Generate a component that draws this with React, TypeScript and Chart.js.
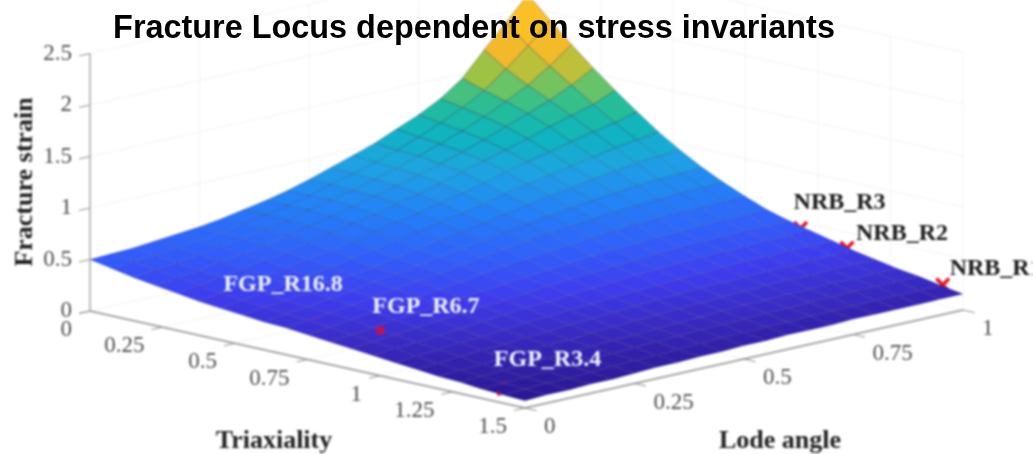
import React, { useEffect, useRef } from "react";
import { Chart, registerables } from "chart.js";

Chart.register(...registerables);

const chartTitle = "Fracture Locus dependent on stress invariants";
const triaxiality = [0, 0.075, 0.15, 0.225, 0.3, 0.375, 0.45, 0.525, 0.6, 0.675, 0.75, 0.825, 0.9, 0.975, 1.05, 1.125, 1.2, 1.275, 1.35, 1.425, 1.5];
const lodeAngle = [0, 0.05, 0.1, 0.15, 0.2, 0.25, 0.3, 0.35, 0.4, 0.45, 0.5, 0.55, 0.6, 0.65, 0.7, 0.75, 0.8, 0.85, 0.9, 0.95, 1];
// one column per triaxiality, each running over the Lode angle values
const fractureStrain = [
  [0.5, 0.51, 0.52, 0.54, 0.56, 0.58, 0.61, 0.65, 0.69, 0.74, 0.8, 0.87, 0.94, 1.01, 1.1, 1.19, 1.3, 1.45, 1.68, 1.9, 2.12],
  [0.46, 0.48, 0.49, 0.52, 0.54, 0.57, 0.61, 0.65, 0.69, 0.74, 0.8, 0.86, 0.92, 0.99, 1.07, 1.16, 1.26, 1.38, 1.54, 1.72, 1.92],
  [0.42, 0.45, 0.47, 0.5, 0.53, 0.56, 0.6, 0.64, 0.69, 0.74, 0.79, 0.85, 0.91, 0.98, 1.05, 1.13, 1.22, 1.32, 1.43, 1.57, 1.73],
  [0.39, 0.42, 0.44, 0.48, 0.51, 0.54, 0.59, 0.63, 0.68, 0.73, 0.78, 0.83, 0.89, 0.95, 1.02, 1.09, 1.17, 1.25, 1.33, 1.43, 1.55],
  [0.36, 0.39, 0.42, 0.46, 0.49, 0.52, 0.57, 0.61, 0.66, 0.7, 0.75, 0.8, 0.86, 0.92, 0.98, 1.04, 1.1, 1.17, 1.23, 1.29, 1.38],
  [0.33, 0.36, 0.39, 0.43, 0.46, 0.5, 0.54, 0.58, 0.63, 0.67, 0.71, 0.76, 0.81, 0.86, 0.92, 0.97, 1.02, 1.07, 1.12, 1.16, 1.22],
  [0.31, 0.34, 0.37, 0.4, 0.43, 0.47, 0.51, 0.55, 0.59, 0.63, 0.67, 0.71, 0.75, 0.8, 0.85, 0.89, 0.93, 0.97, 1.01, 1.04, 1.07],
  [0.29, 0.32, 0.34, 0.37, 0.41, 0.44, 0.47, 0.51, 0.55, 0.59, 0.62, 0.66, 0.7, 0.74, 0.78, 0.81, 0.85, 0.88, 0.91, 0.93, 0.94],
  [0.27, 0.3, 0.32, 0.35, 0.38, 0.42, 0.45, 0.48, 0.52, 0.55, 0.58, 0.62, 0.65, 0.68, 0.71, 0.74, 0.76, 0.79, 0.8, 0.81, 0.82],
  [0.26, 0.29, 0.31, 0.34, 0.37, 0.4, 0.43, 0.46, 0.49, 0.52, 0.55, 0.58, 0.6, 0.63, 0.65, 0.67, 0.69, 0.7, 0.71, 0.72, 0.72],
  [0.24, 0.26, 0.29, 0.32, 0.34, 0.37, 0.4, 0.42, 0.45, 0.48, 0.5, 0.52, 0.54, 0.56, 0.58, 0.6, 0.61, 0.62, 0.62, 0.63, 0.63],
  [0.22, 0.24, 0.26, 0.29, 0.31, 0.33, 0.36, 0.38, 0.4, 0.42, 0.44, 0.46, 0.48, 0.5, 0.51, 0.52, 0.53, 0.54, 0.55, 0.55, 0.55],
  [0.2, 0.22, 0.24, 0.26, 0.28, 0.3, 0.32, 0.34, 0.36, 0.38, 0.4, 0.41, 0.43, 0.44, 0.46, 0.47, 0.48, 0.48, 0.49, 0.49, 0.49],
  [0.18, 0.2, 0.21, 0.23, 0.25, 0.27, 0.29, 0.31, 0.32, 0.34, 0.36, 0.37, 0.39, 0.4, 0.41, 0.42, 0.43, 0.43, 0.44, 0.44, 0.44],
  [0.16, 0.17, 0.19, 0.21, 0.22, 0.24, 0.26, 0.27, 0.29, 0.3, 0.32, 0.33, 0.34, 0.35, 0.36, 0.37, 0.38, 0.38, 0.39, 0.39, 0.39],
  [0.14, 0.15, 0.17, 0.18, 0.19, 0.21, 0.22, 0.24, 0.25, 0.26, 0.28, 0.29, 0.3, 0.31, 0.32, 0.32, 0.33, 0.33, 0.34, 0.34, 0.34],
  [0.12, 0.13, 0.14, 0.16, 0.17, 0.18, 0.19, 0.21, 0.22, 0.23, 0.24, 0.25, 0.26, 0.27, 0.28, 0.29, 0.29, 0.29, 0.3, 0.3, 0.3],
  [0.11, 0.12, 0.13, 0.14, 0.15, 0.16, 0.17, 0.18, 0.19, 0.2, 0.21, 0.22, 0.23, 0.24, 0.24, 0.25, 0.25, 0.26, 0.26, 0.26, 0.26],
  [0.09, 0.1, 0.11, 0.12, 0.13, 0.14, 0.15, 0.16, 0.17, 0.18, 0.19, 0.19, 0.2, 0.21, 0.21, 0.22, 0.22, 0.23, 0.23, 0.23, 0.23],
  [0.08, 0.09, 0.1, 0.1, 0.11, 0.12, 0.13, 0.13, 0.14, 0.15, 0.16, 0.16, 0.17, 0.17, 0.18, 0.18, 0.18, 0.19, 0.19, 0.19, 0.19],
  [0.07, 0.08, 0.08, 0.09, 0.09, 0.1, 0.11, 0.11, 0.12, 0.12, 0.13, 0.13, 0.14, 0.14, 0.14, 0.15, 0.15, 0.15, 0.15, 0.155, 0.155],
];

const triaxTicks = [0, 0.25, 0.5, 0.75, 1, 1.25, 1.5];
const lodeTicks = [0, 0.25, 0.5, 0.75, 1];
const strainTicks = [0, 0.5, 1, 1.5, 2, 2.5];

const nrbNames = ["NRB_R3", "NRB_R2", "NRB_R1"];
const nrbTriax = [0.94, 1.1, 1.43];
const nrbLode = [1, 1, 1];
const nrbStrain = [0.44, 0.35, 0.2];

const fgpNames = ["FGP_R16.8", "FGP_R6.7", "FGP_R3.4"];
const fgpTriax = [0.66, 0.85, 1.37, 1.41];
const fgpLode = [0.08, 0.1, 0.04, 0];
const fgpStrain = [0.27, 0.25, 0.13, 0.08];

const colorStrain = [0.05, 0.2, 0.35, 0.5, 0.7, 0.9, 1.1, 1.2, 1.3, 1.4, 1.5, 1.6, 1.7, 2.0];
const colorRed = [40, 56, 62, 50, 35, 30, 15, 25, 45, 95, 150, 205, 242, 253];
const colorGreen = [20, 40, 60, 92, 128, 162, 180, 185, 190, 195, 195, 190, 185, 195];
const colorBlue = [140, 190, 238, 250, 248, 228, 192, 170, 145, 110, 70, 50, 42, 35];

// 3D view: floor corners and vertical scale of the orthographic projection
const project = (t: number, l: number, z: number) => ({
  x: 90 + (435 * t) / 1.5 + 438 * l,
  y: 311 + (97 * t) / 1.5 - 98 * l - 103 * z,
});

const colorFor = (z: number) => {
  const n = colorStrain.length;
  let k = 0;
  while (k < n - 2 && z > colorStrain[k + 1]) k++;
  const a = Math.max(0, Math.min(1, (z - colorStrain[k]) / (colorStrain[k + 1] - colorStrain[k])));
  const mix = (c: number[]) => Math.round(c[k] + (c[k + 1] - c[k]) * a);
  return `rgb(${mix(colorRed)},${mix(colorGreen)},${mix(colorBlue)})`;
};

const polyline = (pts: number[][], color: string, width: number, order: number) => ({
  data: pts.map(([t, l, z]) => project(t, l, z)),
  showLine: true,
  borderColor: color,
  borderWidth: width,
  pointRadius: 0,
  fill: false,
  order,
});

const buildDatasets = () => {
  const out: any[] = [];
  const wall = "rgba(215,215,215,0.3)";
  const axisGray = "#8f8f8f";

  // walls and floor grid
  for (const l of lodeTicks.slice(1)) out.push(polyline([[0, l, 0], [0, l, 2.5]], wall, 1, 4));
  for (const t of triaxTicks.slice(1)) out.push(polyline([[t, 1, 0], [t, 1, 2.5]], wall, 1, 4));
  for (const z of strainTicks.slice(1)) {
    out.push(polyline([[0, 0, z], [0, 1, z]], wall, 1, 4));
    out.push(polyline([[0, 1, z], [1.5, 1, z]], wall, 1, 4));
  }
  for (const l of lodeTicks) out.push(polyline([[0, l, 0], [1.5, l, 0]], wall, 1, 4));
  for (const t of triaxTicks) out.push(polyline([[t, 0, 0], [t, 1, 0]], wall, 1, 4));

  // axes and ticks
  out.push(polyline([[0, 0, 0], [0, 0, 2.5]], "#b5b5b5", 1.8, 3));
  out.push(polyline([[0, 0, 0], [1.5, 0, 0]], axisGray, 1.3, 3));
  out.push(polyline([[1.5, 0, 0], [1.5, 1, 0]], axisGray, 1.3, 3));
  for (const t of triaxTicks) out.push(polyline([[t, 0, 0], [t, -0.025, 0]], axisGray, 1, 3));
  for (const l of lodeTicks) out.push(polyline([[1.5, l, 0], [1.54, l, 0]], axisGray, 1, 3));
  for (const z of strainTicks) out.push(polyline([[0, 0, z], [0, -0.025, z]], axisGray, 1, 3));

  // NRB markers sit behind the surface
  out.push({
    data: nrbTriax.map((t, i) => project(t, nrbLode[i], nrbStrain[i])),
    showLine: false,
    pointStyle: "crossRot",
    pointRadius: 9,
    pointBorderWidth: 3.5,
    pointBorderColor: "#e8141c",
    order: 2,
  });

  // surface patches
  for (let i = 0; i < triaxiality.length - 1; i++) {
    for (let j = 0; j < lodeAngle.length - 1; j++) {
      const corner = (a: number, b: number) => [triaxiality[a], lodeAngle[b], fractureStrain[a][b]];
      const mean = (fractureStrain[i][j] + fractureStrain[i + 1][j] + fractureStrain[i][j + 1] + fractureStrain[i + 1][j + 1]) / 4;
      out.push({
        data: [corner(i, j), corner(i + 1, j), corner(i + 1, j + 1), corner(i, j + 1), corner(i, j)].map(([t, l, z]) => project(t, l, z)),
        showLine: true,
        fill: "shape",
        backgroundColor: colorFor(mean),
        borderColor: mean < 0.6 ? "rgba(15,20,60,0.12)" : mean < 1 ? "rgba(15,20,60,0.2)" : "rgba(15,20,60,0.3)",
        borderWidth: 1,
        pointRadius: 0,
        tension: 0,
        order: 1,
      });
    }
  }

  // FGP markers show through the surface
  out.push({
    data: fgpTriax.map((t, i) => project(t, fgpLode[i], fgpStrain[i])),
    showLine: false,
    pointStyle: "crossRot",
    pointRadius: [4, 5, 3, 2],
    pointBorderWidth: [1, 4, 1, 2],
    pointBorderColor: ["rgba(150,40,150,0.55)", "#c4124c", "rgba(170,30,110,0.6)", "#c4124c"],
    order: 0,
  });
  return out;
};

const softenThenTitle = (chart: any) => {
  const { ctx, canvas, scales } = chart;
  // the reference is a soft raster image with a sharp title pasted on top
  const copy = document.createElement("canvas");
  copy.width = canvas.width;
  copy.height = canvas.height;
  copy.getContext("2d")!.drawImage(canvas, 0, 0);
  ctx.save();
  ctx.setTransform(1, 0, 0, 1, 0, 0);
  ctx.fillStyle = "#ffffff";
  ctx.fillRect(0, 0, canvas.width, canvas.height);
  ctx.filter = "blur(0.9px)";
  ctx.drawImage(copy, 0, 0);
  ctx.restore();

  ctx.save();
  ctx.font = "bold 32.4px 'Liberation Sans', Arial, sans-serif";
  ctx.fillStyle = "#000000";
  ctx.textAlign = "center";
  ctx.textBaseline = "middle";
  ctx.fillText(chartTitle, scales.x.getPixelForValue(474), scales.y.getPixelForValue(29));
  ctx.restore();
};

const textLayer = {
  id: "textLayer",
  afterDatasetsDraw(chart: any) {
    const { ctx, scales } = chart;
    const X = (v: number) => scales.x.getPixelForValue(v);
    const Y = (v: number) => scales.y.getPixelForValue(v);
    const put = (s: string, x: number, y: number, font: string, color: string, align: CanvasTextAlign = "center") => {
      ctx.font = font;
      ctx.fillStyle = color;
      ctx.textAlign = align;
      ctx.textBaseline = "middle";
      ctx.fillText(s, x, y);
    };
    const serif = "'Liberation Serif', serif";
    const tickFont = `23px ${serif}`;
    const tickColor = "#4d4d4d";
    ctx.save();
    triaxTicks.forEach((t) => {
      const p = project(t, 0, 0);
      put(String(t), X(p.x) - 18, Y(p.y) + 19, tickFont, tickColor, "right");
    });
    lodeTicks.forEach((l) => {
      const p = project(1.5, l, 0);
      put(String(l), X(p.x) + 19, Y(p.y) + 19, tickFont, tickColor, "left");
    });
    strainTicks.forEach((z) => {
      const p = project(0, 0, z);
      put(String(z), X(p.x) - 18, Y(p.y), tickFont, tickColor, "right");
    });

    const labelFont = `bold 24px ${serif}`;
    const nrbDx = [-7, 9, 7];
    const nrbDy = [-26, -14, -16];
    nrbNames.forEach((name, i) => {
      const p = project(nrbTriax[i], nrbLode[i], nrbStrain[i]);
      put(name, X(p.x) + nrbDx[i], Y(p.y) + nrbDy[i], labelFont, "#1c1c1c", "left");
    });
    const fgpDx = [-93, -8, -11];
    const fgpDy = [-33, -24, -22];
    fgpNames.forEach((name, i) => {
      const p = project(fgpTriax[i], fgpLode[i], fgpStrain[i]);
      put(name, X(p.x) + fgpDx[i], Y(p.y) + fgpDy[i], labelFont, "#eef1ff", "left");
    });

    const axisFont = `bold 26px ${serif}`;
    put("Triaxiality", X(274), Y(441), axisFont, "#222222");
    put("Lode angle", X(780), Y(441), axisFont, "#222222");
    ctx.save();
    ctx.translate(X(25), Y(182));
    ctx.rotate(-Math.PI / 2);
    put("Fracture strain", 0, 0, axisFont, "#222222");
    ctx.restore();
    ctx.restore();

    softenThenTitle(chart);
  },
};

export default function App() {
  const ref = useRef<HTMLCanvasElement | null>(null);
  useEffect(() => {
    document.body.style.margin = "0";
    const chart = new Chart(ref.current as HTMLCanvasElement, {
      type: "scatter",
      data: { datasets: buildDatasets() },
      options: {
        animation: false,
        responsive: false,
        events: [],
        layout: { padding: 0, autoPadding: false },
        scales: {
          x: { type: "linear", min: 0, max: 1033, display: false },
          y: { type: "linear", min: 0, max: 454, reverse: true, display: false },
        },
        plugins: { legend: { display: false }, tooltip: { enabled: false }, title: { display: false } },
      },
      plugins: [textLayer],
    } as any);
    return () => chart.destroy();
  }, []);
  return (
    <div style={{ width: 1033, height: 454, overflow: "hidden", background: "#ffffff" }}>
      <canvas ref={ref} width={1033} height={454} style={{ display: "block" }} />
    </div>
  );
}
